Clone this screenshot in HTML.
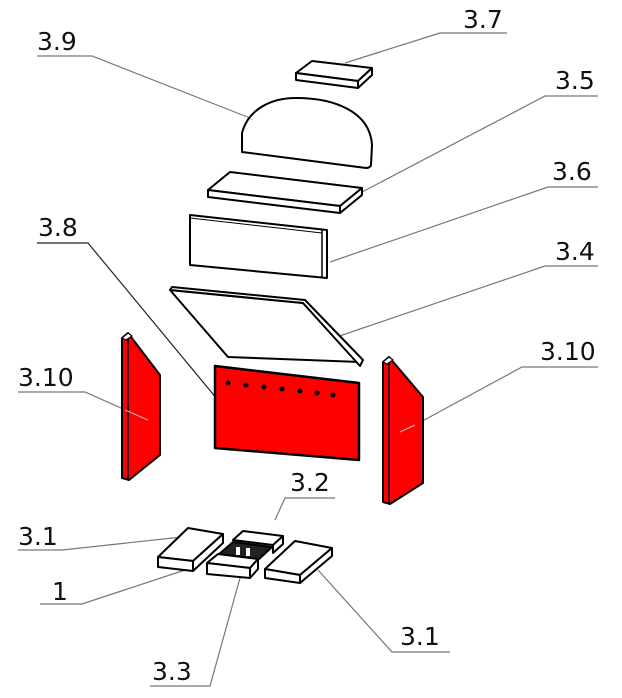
<!DOCTYPE html>
<html><head><meta charset="utf-8"><style>
html,body{margin:0;padding:0;background:#fff;}
svg{display:block}
text{font-family:"DejaVu Sans","Liberation Sans",sans-serif;font-size:25px;fill:#111}
</style></head><body>
<svg width="622" height="698" viewBox="0 0 622 698" xmlns="http://www.w3.org/2000/svg">
<g stroke="#777" stroke-width="1.2" fill="none">
<polyline points="457,33 507,33 "/><line x1="440" y1="33" x2="345" y2="63"/><line x1="440" y1="33" x2="457" y2="33"/>
<polyline points="37,56 92,56 250,118"/>
<polyline points="598,96 545,96 362,192"/>
<polyline points="598,187 548,187 330,262"/>
<polyline points="37,243 88,243 222,405" stroke="#222"/>
<polyline points="598,266 545,266 322,342"/>
<polyline points="18,392 85,392 148,420"/>
<polyline points="598,367 522,367 415,425"/>
<polyline points="335,498 285,498 275,520"/>
<polyline points="18,550 62,550 182,537"/>
<polyline points="40,604 82,604 185,570"/>
<polyline points="450,652 392,652 318,570"/>
<polyline points="150,686 210,686 240,578"/>
</g>
<g font-size="25">
<text x="463" y="28">3.7</text>
<text x="37" y="50">3.9</text>
<text x="555" y="89">3.5</text>
<text x="552" y="180">3.6</text>
<text x="38" y="236">3.8</text>
<text x="555" y="260">3.4</text>
<text x="18" y="386">3.10</text>
<text x="540" y="360">3.10</text>
<text x="290" y="491">3.2</text>
<text x="18" y="545">3.1</text>
<text x="52" y="600">1</text>
<text x="400" y="645">3.1</text>
<text x="152" y="680">3.3</text>
</g>
<g stroke="#000" stroke-width="2" fill="#fff" stroke-linejoin="round">
<!-- 3.7 -->
<path d="M296,73 L312,61 L372,68 L358,81 Z"/>
<path d="M296,73 L358,81 L358,88 L296,80 Z"/>
<path d="M358,81 L372,68 L372,75 L358,88 Z"/>
<!-- 3.9 -->
<path d="M242,152 L242,133 C248,110 270,98 296,98 C335,98 370,112 372,145 L371,165 Q370,168 366,168 Z"/>
<!-- 3.5 -->
<path d="M208,190 L230,172 L362,188 L340,206 Z"/>
<path d="M208,190 L340,206 L340,213 L208,197 Z"/>
<path d="M340,206 L362,188 L362,195 L340,213 Z"/>
<!-- 3.6 -->
<path d="M190,215 L327,230 L327,278 L190,265 Z"/>
<line x1="322" y1="230" x2="322" y2="278" stroke-width="1.5"/>
<line x1="190" y1="218" x2="322" y2="233" stroke-width="1"/>
<!-- 3.4 -->
<path d="M170,290 L303,303 L360,362 L228,357 Z"/>
<path d="M170,290 L172,287 L305,300 L363,360 L360,366 L303,303 Z"/>
<!-- 3.8 -->
<path d="M215,366 L359,383 L359,460 L215,448 Z" fill="#ff0000" stroke-width="2.5"/>
<!-- 3.10 left -->
<path d="M122,338 L128,333 L160,375 L160,455 L129,480 L122,478 Z" fill="#ff0000"/>
<line x1="128" y1="336" x2="128" y2="480" stroke-width="1.5"/>
<path d="M122,338 L128,333 L132,336 L126,340 Z" fill="#fff" stroke-width="1.2"/>
<!-- 3.10 right -->
<path d="M383,362 L389,357 L423,397 L423,483 L390,504 L383,502 Z" fill="#ff0000"/>
<line x1="389" y1="360" x2="389" y2="504" stroke-width="1.5"/>
<path d="M383,362 L389,357 L393,360 L387,364 Z" fill="#fff" stroke-width="1.2"/>
<!-- bottom left 3.1 -->
<path d="M158,557 L188,528 L223,534 L193,561 Z"/>
<path d="M158,557 L193,561 L193,571 L158,567 Z"/>
<path d="M193,561 L223,534 L223,543 L193,571 Z"/>
<!-- 3.2 -->
<path d="M233,540 L243,531 L283,536 L273,545 Z"/>
<path d="M273,545 L283,536 L283,544 L273,553 Z"/>
<path d="M218,555 L233,542 L272,547 L258,560 Z" fill="#222"/>
<rect x="236" y="547" width="4" height="8" fill="#fff" stroke="none"/>
<rect x="246" y="548" width="4" height="8" fill="#fff" stroke="none"/>
<!-- 3.3 -->
<path d="M207,563 L218,554 L258,559 L250,568 Z"/>
<path d="M207,563 L250,568 L250,578 L207,574 Z"/>
<path d="M250,568 L258,559 L258,569 L250,578 Z"/>
<!-- right 3.1 -->
<path d="M265,569 L295,541 L332,548 L300,575 Z"/>
<path d="M265,569 L300,575 L300,583 L265,578 Z"/>
<path d="M300,575 L332,548 L332,556 L300,583 Z"/>
</g>
<g fill="#000">
<circle cx="228" cy="383" r="2.5"/><circle cx="246" cy="385" r="2.5"/><circle cx="264" cy="387" r="2.5"/><circle cx="282" cy="389" r="2.5"/><circle cx="300" cy="391" r="2.5"/><circle cx="317" cy="393" r="2.5"/><circle cx="333" cy="395" r="2.5"/>
</g>
<g stroke="#bbb" stroke-width="1.2">
<line x1="250" y1="118" x2="252" y2="120"/>
<line x1="125" y1="410" x2="148" y2="420"/>
<line x1="400" y1="432" x2="415" y2="425"/>
</g>
</svg>
</body></html>
